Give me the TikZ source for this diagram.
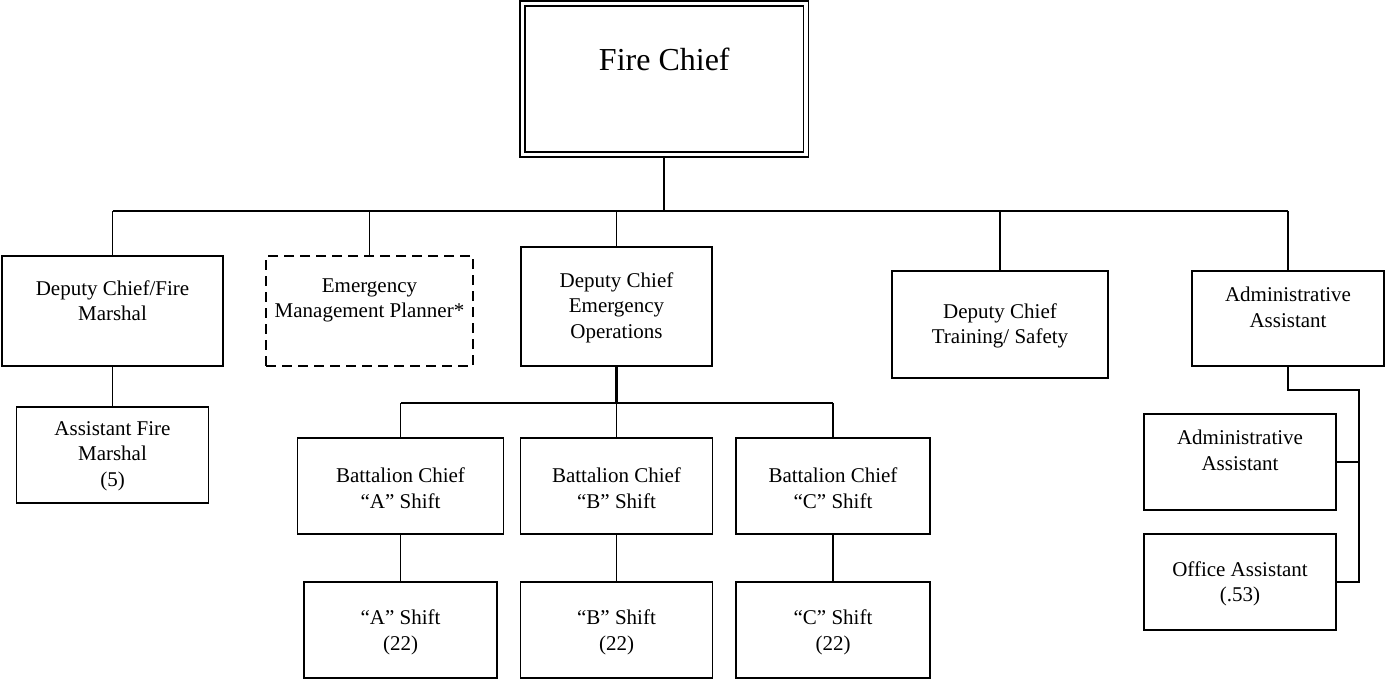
\documentclass[tikz,border=0pt]{standalone}
\usepackage{fontspec}
\setmainfont{Liberation Serif}
\begin{document}
\begin{tikzpicture}[x=1pt,y=-1pt,
  box/.style={draw, line width=1.25pt, inner sep=0pt},
  dashbox/.style={box, dash pattern=on 10pt off 6pt},
  chiefbox/.style={draw, line width=1.3pt, double, double distance=3.7pt, inner sep=0pt},
  txt/.style={align=center, inner sep=0pt, font=\fontsize{21}{25.5}\selectfont},
  link/.style={line width=1.25pt},
  heavylink/.style={line width=2.2pt}]
\useasboundingbox (0,0) rectangle (1386,680);

% boxes
\node[chiefbox, minimum width=283.5pt, minimum height=151pt] (chief) at (664.3,79) {};
\node[inner sep=0pt, font=\fontsize{32}{38}\selectfont] (chieft) at (664.3,59) {Fire Chief};

\node[box, minimum width=221pt, minimum height=110pt] (dcfm) at (112.5,311) {};
\node[txt] (dcfmt) at (112.5,300.5) {Deputy Chief/Fire\\Marshal};

\node[dashbox, minimum width=207pt, minimum height=110pt] (emp) at (369.5,311) {};
\node[txt] (empt) at (369.5,300.5) {Emergency\\Management Planner*};

\node[box, minimum width=191pt, minimum height=119pt] (dceo) at (616.5,306.5) {};
\node[txt] (dceot) at (616.5,307.5) {Deputy Chief\\Emergency\\Operations};

\node[box, minimum width=216pt, minimum height=107pt] (dcts) at (1000,324.5) {};
\node[txt] (dctst) at (1000,326) {Deputy Chief\\Training/ Safety};

\node[box, minimum width=192pt, minimum height=95pt] (aa1) at (1288,318.5) {};
\node[txt] (aa1t) at (1288,307.5) {Administrative\\Assistant};

\node[box, minimum width=192pt, minimum height=96pt] (aa2) at (1240,462) {};
\node[txt] (aa2t) at (1240,450.5) {Administrative\\Assistant};

\node[box, minimum width=192pt, minimum height=96pt] (oa) at (1240,582) {};
\node[txt] (oat) at (1240,584) {Office Assistant\\(.53)};

\node[box, minimum width=192pt, minimum height=96pt] (afm) at (112.5,455) {};
\node[txt] (afmt) at (112.5,456) {Assistant Fire\\Marshal\\(5)};

\node[box, minimum width=206pt, minimum height=96pt] (bca) at (400.5,486) {};
\node[txt] (bcat) at (400.5,488) {Battalion Chief\\``A'' Shift};
\node[box, minimum width=192pt, minimum height=96pt] (bcb) at (616.5,486) {};
\node[txt] (bcbt) at (616.5,488) {Battalion Chief\\``B'' Shift};
\node[box, minimum width=194pt, minimum height=96pt] (bcc) at (833,486) {};
\node[txt] (bcct) at (833,488) {Battalion Chief\\``C'' Shift};

\node[box, minimum width=193pt, minimum height=96pt] (sa) at (400.5,630) {};
\node[txt] (sat) at (400.5,632.5) {``A'' Shift\\(22)};
\node[box, minimum width=192pt, minimum height=96pt] (sb) at (616.5,630) {};
\node[txt] (sbt) at (616.5,632.5) {``B'' Shift\\(22)};
\node[box, minimum width=194pt, minimum height=96pt] (sc) at (833,630) {};
\node[txt] (sct) at (833,632.5) {``C'' Shift\\(22)};

% top bus
\coordinate (busC) at (664.3,211);
\coordinate (busL) at (112.5,211);
\coordinate (busR) at (1288,211);
\draw[heavylink] ([yshift=-2.6pt]chief.south) -- (busC);
\draw[heavylink] (busL) -- (busR);
\draw[link] (busL) -- (dcfm.north);
\draw[link] (emp.north |- busC) -- (emp.north);
\draw[link] (dceo.north |- busC) -- (dceo.north);
\draw[link] (dcts.north |- busC) -- (dcts.north);
\draw[link] (busR) -- (aa1.north);

% left branch
\draw[link] (dcfm.south) -- (afm.north);

% operations branch
\coordinate (sbus) at (616.5,403);
\draw[heavylink] (dceo.south) -- (sbus);
\draw[link] (bca.north |- sbus) -- (bcc.north |- sbus);
\draw[link] (bca.north |- sbus) -- (bca.north);
\draw[link] (bcb.north |- sbus) -- (bcb.north);
\draw[link] (bcc.north |- sbus) -- (bcc.north);
\draw[link] (bca.south) -- (sa.north);
\draw[link] (bcb.south) -- (sb.north);
\draw[link] (bcc.south) -- (sc.north);

% admin branch
\coordinate (ajog) at (1288,390);
\coordinate (aside) at (1359,390);
\draw[link] (aa1.south) -- (ajog) -- (aside) -- (aside |- oa.east) -- (oa.east);
\draw[link] (aside |- aa2.east) -- (aa2.east);
\end{tikzpicture}
\end{document}
